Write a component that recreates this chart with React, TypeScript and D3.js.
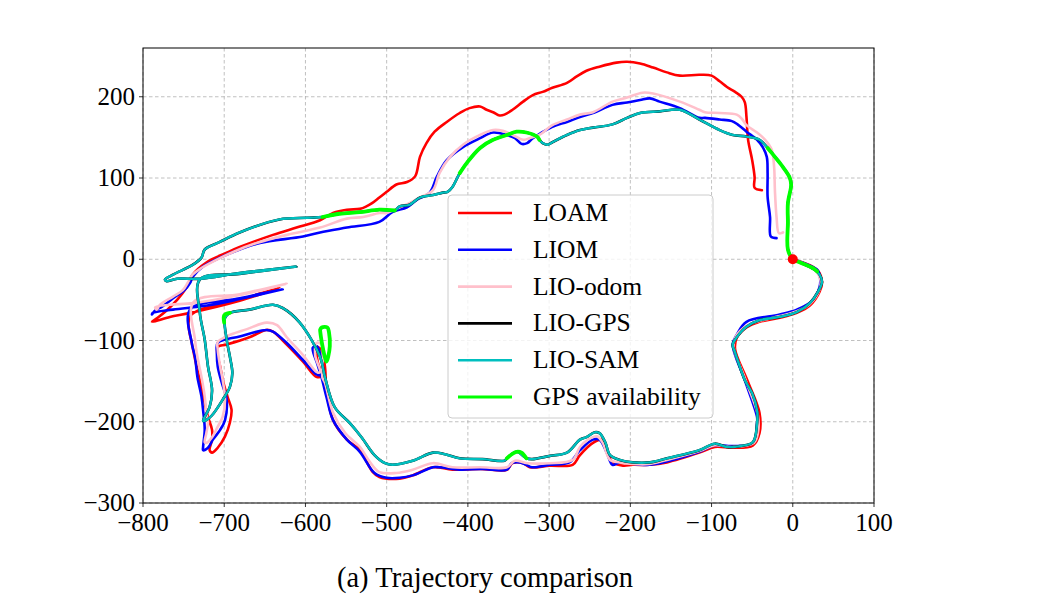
import React from "react";
import * as d3 from "d3";

type P = [number, number];

const xTicks = [-800, -700, -600, -500, -400, -300, -200, -100, 0, 100];
const yTicks = [-300, -200, -100, 0, 100, 200];

const seriesNames = ["LOAM", "LIOM", "LIO-odom", "LIO-GPS", "LIO-SAM", "GPS availability"];
const seriesColors = ["#ff0000", "#0000ff", "#ffc0cb", "#000000", "#00bfbf", "#00ff00"];

const loam: P[] = [
  [0, 0], [30, -13], [36, -28], [33, -40], [21, -57], [5, -66], [-16, -72], [-41, -77], [-57, -84], [-69, -97],
  [-71, -111], [-56, -149], [-41, -189], [-41, -214], [-49, -229], [-74, -232], [-96, -231], [-115, -238],
  [-155, -250], [-176, -253], [-197, -253], [-209, -254], [-222, -250], [-228, -237], [-234, -222], [-246, -226],
  [-262, -241], [-271, -253], [-299, -254], [-324, -256], [-332, -251], [-345, -251], [-352, -259], [-385, -258],
  [-419, -259], [-443, -256], [-468, -266], [-484, -270], [-509, -268], [-517, -262], [-533, -235], [-549, -222],
  [-566, -198], [-574, -161], [-576, -132], [-580, -112], [-586, -108], [-585, -126], [-580, -143], [-586, -145],
  [-603, -126], [-623, -105], [-640, -89], [-648, -87], [-669, -96], [-697, -105], [-708, -108], [-708, -120],
  [-705, -132], [-702, -148], [-696, -169], [-691, -185], [-693, -201], [-699, -218], [-708, -232], [-715, -238],
  [-718, -235], [-715, -222], [-715, -210], [-720, -194], [-724, -177], [-728, -157], [-734, -132], [-739, -108],
  [-740, -103], [-742, -70], [-681, -50], [-632, -35], [-681, -51], [-742, -66], [-767, -71], [-789, -77],
  [-782, -72], [-771, -63], [-758, -50], [-746, -34], [-742, -25], [-739, -19], [-722, -4], [-697, 8], [-681, 15],
  [-640, 30], [-611, 39], [-582, 48], [-566, 57], [-549, 61], [-533, 62], [-525, 65], [-518, 69], [-509, 76],
  [-500, 83], [-488, 92], [-475, 95], [-465, 102], [-459, 126], [-451, 143], [-441, 157], [-426, 169], [-410, 180],
  [-398, 186], [-385, 188], [-377, 184], [-369, 181], [-361, 177], [-355, 178], [-345, 184], [-332, 194],
  [-320, 202], [-308, 206], [-296, 211], [-278, 217], [-266, 225], [-254, 232], [-238, 237], [-217, 242],
  [-204, 243], [-188, 241], [-172, 236], [-155, 230], [-139, 226], [-115, 227], [-100, 226], [-90, 219],
  [-81, 212], [-71, 206], [-63, 200], [-59, 193], [-57, 175], [-55, 147], [-50, 122], [-47, 101], [-47, 88],
  [-38, 85],
];

const liom: P[] = [
  [0, 0], [30, -13], [33, -19], [33, -34], [23, -52], [5, -62], [-16, -68], [-57, -77], [-69, -93], [-74, -105],
  [-59, -149], [-44, -194], [-44, -202], [-49, -226], [-74, -230], [-96, -229], [-115, -237], [-176, -253],
  [-213, -250], [-222, -253], [-229, -238], [-238, -222], [-246, -222], [-262, -235], [-275, -250], [-299, -253],
  [-321, -256], [-328, -253], [-336, -250], [-346, -251], [-352, -259], [-382, -258], [-410, -259], [-435, -256],
  [-443, -256], [-468, -266], [-484, -269], [-500, -269], [-515, -263], [-533, -237], [-549, -222], [-566, -198],
  [-574, -170], [-580, -146], [-585, -130], [-591, -109], [-586, -107], [-580, -124], [-579, -142], [-586, -142],
  [-603, -124], [-623, -103], [-640, -89], [-648, -87], [-681, -95], [-708, -103], [-709, -115], [-708, -132],
  [-703, -152], [-697, -173], [-699, -198], [-705, -210], [-714, -222], [-720, -232], [-726, -235], [-726, -231],
  [-724, -210], [-726, -186], [-728, -169], [-733, -145], [-736, -120], [-740, -103], [-742, -62], [-681, -48],
  [-628, -37], [-681, -49], [-721, -57], [-763, -62], [-788, -66], [-789, -68], [-785, -63], [-776, -58],
  [-763, -48], [-749, -38], [-742, -29], [-739, -22], [-726, -9], [-705, 2], [-681, 12], [-656, 20], [-603, 28],
  [-582, 33], [-549, 39], [-509, 46], [-493, 58], [-475, 64], [-463, 73], [-447, 82], [-438, 102], [-426, 122],
  [-406, 138], [-385, 149], [-369, 156], [-352, 153], [-342, 149], [-334, 142], [-327, 143], [-320, 149],
  [-296, 163], [-278, 169], [-262, 175], [-246, 180], [-222, 190], [-204, 193], [-188, 196], [-176, 198],
  [-164, 194], [-139, 186], [-115, 174], [-108, 174], [-90, 172], [-75, 170], [-68, 166], [-57, 157], [-44, 147],
  [-37, 138], [-32, 126], [-31, 106], [-31, 77], [-28, 52], [-27, 28], [-20, 26],
];

const lioOdom: P[] = [
  [0, 0], [27, -13], [34, -25], [33, -37], [21, -55], [5, -64], [-16, -70], [-41, -76], [-57, -82], [-70, -95],
  [-73, -107], [-58, -149], [-43, -192], [-43, -214], [-48, -226], [-74, -231], [-96, -229], [-115, -236],
  [-155, -247], [-176, -252], [-197, -252], [-213, -250], [-225, -247], [-234, -226], [-241, -218], [-252, -222],
  [-262, -231], [-271, -247], [-299, -251], [-327, -251], [-342, -248], [-352, -256], [-385, -256], [-419, -256],
  [-443, -251], [-468, -259], [-488, -263], [-509, -262], [-521, -249], [-533, -231], [-551, -214], [-566, -189],
  [-576, -152], [-579, -146], [-579, -132], [-580, -105], [-586, -103], [-588, -118], [-582, -139], [-586, -139],
  [-603, -118], [-623, -96], [-635, -81], [-648, -78], [-672, -86], [-697, -95], [-708, -102], [-708, -111],
  [-705, -132], [-702, -148], [-699, -173], [-702, -194], [-708, -206], [-715, -219], [-722, -226], [-724, -225],
  [-722, -214], [-720, -201], [-722, -189], [-724, -169], [-728, -145], [-733, -120], [-736, -99], [-738, -53],
  [-681, -43], [-623, -30], [-681, -44], [-738, -54], [-767, -56], [-785, -59], [-783, -62], [-779, -56],
  [-763, -46], [-751, -38], [-745, -29], [-739, -19], [-730, -12], [-714, -3], [-689, 9], [-660, 20], [-623, 30],
  [-582, 39], [-549, 50], [-529, 52], [-509, 57], [-500, 57], [-488, 62], [-472, 69], [-459, 76], [-443, 85],
  [-435, 106], [-422, 126], [-406, 141], [-385, 153], [-369, 159], [-357, 158], [-345, 153], [-332, 147],
  [-324, 149], [-312, 153], [-296, 165], [-278, 172], [-262, 178], [-246, 181], [-222, 194], [-204, 199],
  [-185, 205], [-172, 204], [-139, 194], [-115, 184], [-108, 181], [-90, 180], [-69, 178], [-62, 172], [-57, 165],
  [-44, 156], [-34, 147], [-26, 135], [-23, 114], [-22, 85], [-20, 52], [-17, 32], [-12, 33],
];

const lioSam: P[] = [
  [0, 0], [-6, 12], [-6, 45], [-6, 69], [-2, 92], [-4, 101], [-14, 116], [-22, 126], [-31, 137], [-41, 147],
  [-57, 151], [-74, 153], [-90, 159], [-115, 172], [-139, 184], [-164, 182], [-188, 180], [-204, 174], [-222, 166],
  [-246, 162], [-262, 159], [-278, 153], [-296, 144], [-302, 141], [-308, 143], [-312, 147], [-315, 151],
  [-328, 156], [-340, 157], [-352, 153], [-369, 147], [-385, 137], [-401, 119], [-410, 106], [-419, 89], [-425, 83],
  [-431, 82], [-443, 79], [-459, 76], [-472, 67], [-484, 65], [-490, 60], [-509, 61], [-533, 58], [-558, 56],
  [-579, 52], [-598, 51], [-632, 49], [-681, 33], [-706, 21], [-724, 12], [-728, 2], [-739, -7], [-751, -13],
  [-763, -19], [-773, -25], [-771, -27], [-758, -24], [-730, -24], [-681, -17], [-611, -9], [-681, -18],
  [-730, -25], [-730, -66], [-724, -99], [-720, -132], [-715, -161], [-718, -182], [-724, -194], [-726, -199],
  [-722, -198], [-715, -192], [-702, -173], [-693, -157], [-690, -140], [-693, -120], [-697, -99], [-699, -72],
  [-693, -66], [-669, -62], [-640, -56], [-628, -60], [-607, -78], [-582, -120], [-576, -145], [-564, -182],
  [-545, -202], [-531, -219], [-515, -241], [-502, -251], [-493, -253], [-468, -248], [-443, -238], [-428, -240],
  [-410, -245], [-382, -246], [-355, -248], [-352, -245], [-340, -237], [-328, -245], [-321, -246], [-299, -242],
  [-278, -238], [-262, -222], [-254, -219], [-244, -213], [-238, -214], [-231, -225], [-225, -241], [-213, -247],
  [-197, -250], [-176, -250], [-155, -245], [-115, -235], [-96, -227], [-81, -231], [-65, -230], [-49, -225],
  [-44, -202], [-44, -186], [-50, -165], [-59, -149], [-71, -115], [-74, -105], [-69, -96], [-57, -83], [-41, -75],
  [-16, -71], [5, -65], [21, -54], [31, -40], [36, -28], [33, -19], [27, -13], [9, -4], [0, 0],
];

// LIO-GPS lies underneath LIO-SAM in the picture
const lioGps: P[] = lioSam;

const gpsSegments: P[][] = [
  [[-31, 137], [-22, 126], [-14, 116], [-4, 101], [-2, 92], [-6, 69], [-6, 45], [-6, 12], [0, 0], [9, -4], [25, -11], [30, -15]],
  [[-312, 147], [-315, 151], [-328, 156], [-340, 157], [-352, 153], [-369, 147], [-385, 137], [-401, 119], [-410, 106]],
  [[-490, 60], [-509, 61], [-533, 58], [-558, 56], [-579, 52]],
  [[-582, -87], [-580, -84], [-573, -84], [-571, -90], [-570, -107], [-572, -120], [-574, -126], [-576, -121], [-579, -107], [-581, -95], [-582, -87]],
  [[-693, -66], [-700, -69], [-700, -78]],
  [[-352, -245], [-346, -240], [-340, -237], [-334, -238], [-328, -245]],
];

const W = 1044, H = 610;
const L = 143, R = 874, T = 48, B = 503;

export default function App() {
  const x = d3.scaleLinear().domain([-800, 100]).range([L, R]);
  const y = d3.scaleLinear().domain([-300, 260]).range([B, T]);
  const line = d3.line<P>().x(d => x(d[0])).y(d => y(d[1])).curve(d3.curveCatmullRom.alpha(0.5));
  const font = "'Liberation Serif', 'DejaVu Serif', serif";
  const series: { data: P[]; color: string; w: number }[] = [
    { data: loam, color: seriesColors[0], w: 2.6 },
    { data: liom, color: seriesColors[1], w: 2.6 },
    { data: lioOdom, color: seriesColors[2], w: 2.6 },
    { data: lioGps, color: seriesColors[3], w: 2.6 },
    { data: lioSam, color: seriesColors[4], w: 2.4 },
  ];
  const legX = 448, legY = 195, legW = 265, legH = 223;
  return (
    <svg width={W} height={H} style={{ position: "absolute", left: 0, top: 0, background: "#fff" }}>
      <defs>
        <clipPath id="plotclip"><rect x={L} y={T} width={R - L} height={B - T} /></clipPath>
      </defs>
      {xTicks.map(t => (
        <line key={"gx" + t} x1={x(t)} x2={x(t)} y1={T} y2={B} stroke="#b0b0b0" strokeWidth={0.8} strokeDasharray="3.5,2.5" />
      ))}
      {yTicks.map(t => (
        <line key={"gy" + t} x1={L} x2={R} y1={y(t)} y2={y(t)} stroke="#b0b0b0" strokeWidth={0.8} strokeDasharray="3.5,2.5" />
      ))}
      <g clipPath="url(#plotclip)" fill="none" strokeLinejoin="round" strokeLinecap="round">
        {series.map((s, i) => (
          <path key={i} d={line(s.data) || ""} stroke={s.color} strokeWidth={s.w} />
        ))}
        {gpsSegments.map((seg, i) => (
          <path key={"g" + i} d={line(seg) || ""} stroke={seriesColors[5]} strokeWidth={3.8} />
        ))}
        <circle cx={x(0)} cy={y(0)} r={5} fill="#ff0000" stroke="none" />
      </g>
      <rect x={L} y={T} width={R - L} height={B - T} fill="none" stroke="#000" strokeWidth={1} />
      {xTicks.map(t => (
        <g key={"xt" + t}>
          <line x1={x(t)} x2={x(t)} y1={B} y2={B + 4} stroke="#000" strokeWidth={0.8} />
          <text x={x(t)} y={531} textAnchor="middle" fontFamily={font} fontSize={25} fill="#000">
            {t < 0 ? "\u2212" + Math.abs(t) : String(t)}
          </text>
        </g>
      ))}
      {yTicks.map(t => (
        <g key={"yt" + t}>
          <line x1={L - 4} x2={L} y1={y(t)} y2={y(t)} stroke="#000" strokeWidth={0.8} />
          <text x={L - 8} y={y(t) + 8} textAnchor="end" fontFamily={font} fontSize={25} fill="#000">
            {t < 0 ? "\u2212" + Math.abs(t) : String(t)}
          </text>
        </g>
      ))}
      <rect x={legX} y={legY} width={legW} height={legH} rx={4} fill="#fff" fillOpacity={0.8} stroke="#cccccc" strokeWidth={1} />
      {seriesNames.map((n, i) => {
        const cy = 213 + i * 36.8;
        return (
          <g key={n}>
            <line x1={458} x2={512} y1={cy} y2={cy} stroke={seriesColors[i]} strokeWidth={i === 5 ? 2.8 : 2.6} />
            <text x={533} y={cy + 8} fontFamily={font} fontSize={25.5} fill="#000">{n}</text>
          </g>
        );
      })}
      <text x={485} y={587} textAnchor="middle" fontFamily={font} fontSize={28.5} fill="#000">(a) Trajectory comparison</text>
    </svg>
  );
}
